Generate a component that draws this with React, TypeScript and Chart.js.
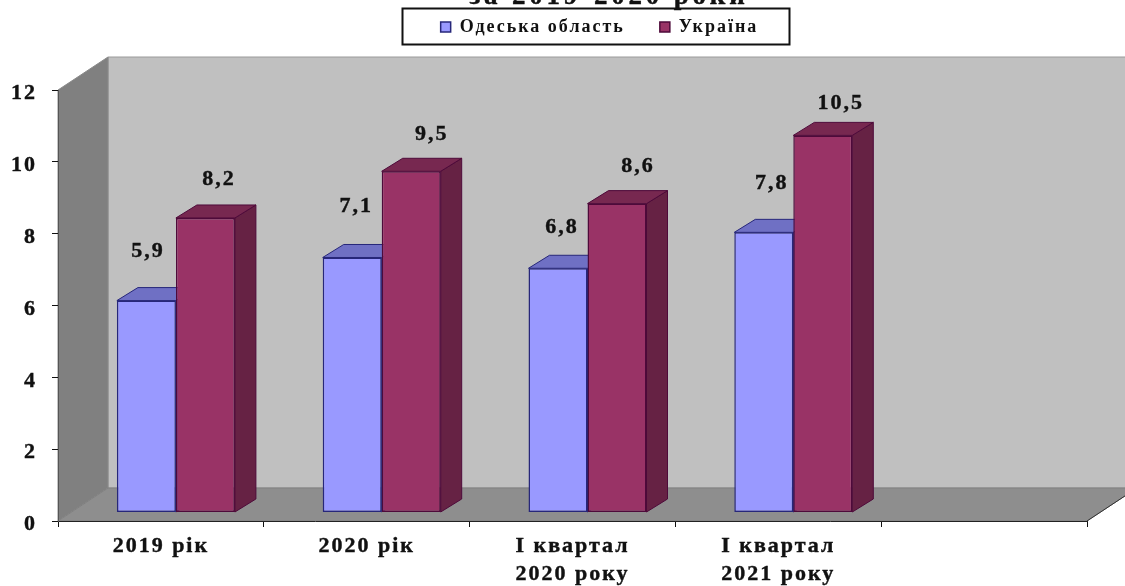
import React, { useEffect, useRef } from "react";
import { Chart, registerables } from "chart.js";

Chart.register(...registerables);

const chartTitle = "за 2019-2020 роки";
const categories: (string | string[])[] = [
  "2019 рік",
  "2020 рік",
  ["І квартал", "2020 року"],
  ["І квартал", "2021 року"],
  "",
];
const odesaLabel = "Одеська область";
const ukraineLabel = "Україна";
const odesaValues = [5.9, 7.1, 6.8, 7.8];
const ukraineValues = [8.2, 9.5, 8.6, 10.5];
const odesaLabelOffsets = [[0.5, -52], [3, -54], [3, -44], [7, -52]];
const ukraineLabelOffsets = [[12.5, -42], [19.5, -40], [20, -40], [17, -35]];

const SERIF = '"Liberation Serif", serif';
const SPACING = "2px";

const faces = [
  { top: "#6F70C4", side: "#5C5CA8", line: "#27277A" },
  { top: "#772850", side: "#662244", line: "#4E0A3A" },
];

const WALL_DX = 50;
const WALL_DY = 33;
const BAR_DX = 21;
const BAR_DY = 13;
const SHIFT_X = 15;
const SHIFT_Y = -8.5;

function poly(ctx: CanvasRenderingContext2D, pts: number[][], fill: string, stroke?: string) {
  ctx.beginPath();
  pts.forEach((p, i) => (i ? ctx.lineTo(p[0], p[1]) : ctx.moveTo(p[0], p[1])));
  ctx.closePath();
  ctx.fillStyle = fill;
  ctx.fill();
  if (stroke) {
    ctx.strokeStyle = stroke;
    ctx.lineWidth = 1;
    ctx.stroke();
  }
}

const scene3d = {
  id: "scene3d",
  beforeUpdate(chart: any) {
    chart.ctx.letterSpacing = SPACING;
  },
  afterLayout(chart: any) {
    const lg = chart.legend;
    const h = lg.bottom - lg.top;
    const w = lg.right - lg.left;
    lg.top = -17;
    lg.bottom = lg.top + h;
    lg.left = 56;
    lg.right = lg.left + w;
  },
  beforeDraw(chart: any) {
    const { ctx, chartArea: a, scales } = chart;
    ctx.letterSpacing = SPACING;
    const y0 = scales.y.getPixelForValue(0);
    const yT = scales.y.getPixelForValue(12);
    ctx.save();
    // back wall
    poly(ctx, [[a.left + WALL_DX, yT - WALL_DY], [a.right + WALL_DX, yT - WALL_DY], [a.right + WALL_DX, y0 - WALL_DY], [a.left + WALL_DX, y0 - WALL_DY]], "#C0C0C0", "#9A9A9A");
    // side wall
    poly(ctx, [[a.left, yT], [a.left + WALL_DX, yT - WALL_DY], [a.left + WALL_DX, y0 - WALL_DY], [a.left, y0]], "#808080", "#8A8A8A");
    // floor
    poly(ctx, [[a.left, y0], [a.left + WALL_DX, y0 - WALL_DY], [a.right + WALL_DX, y0 - WALL_DY], [a.right, y0]], "#8E8E8E", "#808080");
    ctx.beginPath();
    ctx.moveTo(a.right, y0);
    ctx.lineTo(a.right + WALL_DX, y0 - WALL_DY);
    ctx.strokeStyle = "#333333";
    ctx.stroke();
    // title, cut by the top of the picture
    ctx.letterSpacing = "3.8px";
    ctx.font = `bold 27px ${SERIF}`;
    ctx.fillStyle = "#111111";
    ctx.strokeStyle = "#111111";
    ctx.lineWidth = 0.4;
    ctx.textAlign = "center";
    ctx.textBaseline = "alphabetic";
    ctx.fillText(chartTitle, 609, 4);
    ctx.strokeText(chartTitle, 609, 4);
    // legend frame
    ctx.strokeStyle = "#111111";
    ctx.lineWidth = 2;
    ctx.strokeRect(402.5, 8.5, 387, 36);
    ctx.restore();
    ctx.letterSpacing = SPACING;
  },
  beforeDatasetsDraw(chart: any) {
    const { ctx } = chart;
    ctx.save();
    ctx.translate(SHIFT_X, SHIFT_Y);
    chart.data.datasets.forEach((_: any, di: number) => {
      const f = faces[di];
      chart.getDatasetMeta(di).data.forEach((bar: any) => {
        const { x, y, base, width } = bar.getProps(["x", "y", "base", "width"], true);
        if (y === undefined || isNaN(y)) return;
        const l = x - width / 2;
        const r = x + width / 2;
        poly(ctx, [[r, y], [r + BAR_DX, y - BAR_DY], [r + BAR_DX, base - BAR_DY], [r, base]], f.side, f.line);
        poly(ctx, [[l, y], [l + BAR_DX, y - BAR_DY], [r + BAR_DX, y - BAR_DY], [r, y]], f.top, f.line);
      });
    });
  },
  afterDatasetsDraw(chart: any) {
    const { ctx } = chart;
    ctx.restore();
    ctx.save();
    ctx.font = `bold 22px ${SERIF}`;
    ctx.fillStyle = "#111111";
    ctx.strokeStyle = "#111111";
    ctx.lineWidth = 0.4;
    ctx.textAlign = "center";
    ctx.textBaseline = "middle";
    const offsets = [odesaLabelOffsets, ukraineLabelOffsets];
    chart.data.datasets.forEach((ds: any, di: number) => {
      chart.getDatasetMeta(di).data.forEach((bar: any, i: number) => {
        const v = ds.data[i];
        if (v === undefined || v === null) return;
        const { x, y } = bar.getProps(["x", "y"], true);
        const [ox, oy] = offsets[di][i];
        const txt = String(v).replace(".", ",");
        const tx = x + SHIFT_X + ox + 1;
        const ty = y + SHIFT_Y + oy + 3;
        ctx.fillText(txt, tx, ty);
        ctx.strokeText(txt, tx, ty);
      });
    });
    ctx.restore();
  },
};

export default function App() {
  const ref = useRef<HTMLCanvasElement>(null);
  useEffect(() => {
    const chart = new Chart(ref.current as HTMLCanvasElement, {
      type: "bar",
      data: {
        labels: categories as any,
        datasets: [
          { label: odesaLabel, data: odesaValues, backgroundColor: "#9999FF", borderColor: faces[0].line, borderWidth: 1.5, borderSkipped: false },
          { label: ukraineLabel, data: ukraineValues, backgroundColor: "#993366", borderColor: faces[1].line, borderWidth: 1.5, borderSkipped: false },
        ],
      },
      options: {
        responsive: false,
        animation: false,
        clip: false as any,
        datasets: { bar: { barPercentage: 1, categoryPercentage: 118 / 205.8 } },
        layout: { padding: { left: 0, right: 38, top: 27, bottom: 0 } },
        plugins: {
          title: { display: false },
          tooltip: { enabled: false },
          legend: {
            display: true,
            position: "top",
            labels: {
              boxWidth: 10,
              boxHeight: 10,
              padding: 35,
              color: "#111111",
              font: { family: SERIF, weight: "bold", size: 18 },
            },
          },
        },
        scales: {
          x: {
            afterFit: (s: any) => { s.height = 586 - 521; },
            border: { color: "#222222" },
            grid: { drawOnChartArea: false, drawTicks: true, tickLength: 6, color: "#111111" },
            ticks: {
              color: "#111111",
              padding: 6,
              maxRotation: 0,
              autoSkip: false,
              textStrokeColor: "#111111",
              textStrokeWidth: 0.4,
              font: { family: SERIF, weight: "bold", size: 22, lineHeight: 1.25 },
            },
          },
          y: {
            min: 0,
            max: 12,
            afterFit: (s: any) => {
              s.width = 58;
              const base = Object.getPrototypeOf(s).drawLabels;
              s.drawLabels = function (area: any) {
                s.ctx.save();
                s.ctx.translate(0, 3.5);
                base.call(s, area);
                s.ctx.restore();
              };
            },
            border: { color: "#555555" },
            grid: { drawOnChartArea: false, drawTicks: true, tickLength: 6, color: "#111111" },
            ticks: {
              stepSize: 2,
              color: "#111111",
              padding: 15,
              textStrokeColor: "#111111",
              textStrokeWidth: 0.4,
              font: { family: SERIF, weight: "bold", size: 22 },
            },
          },
        },
      },
      plugins: [scene3d],
    } as any);
    return () => chart.destroy();
  }, []);
  return (
    <div style={{ position: "absolute", left: 0, top: 0, width: 1125, height: 586, overflow: "hidden", background: "#fff" }}>
      <canvas ref={ref} width={1125} height={586} style={{ display: "block", filter: "blur(0.45px)" }} />
    </div>
  );
}
